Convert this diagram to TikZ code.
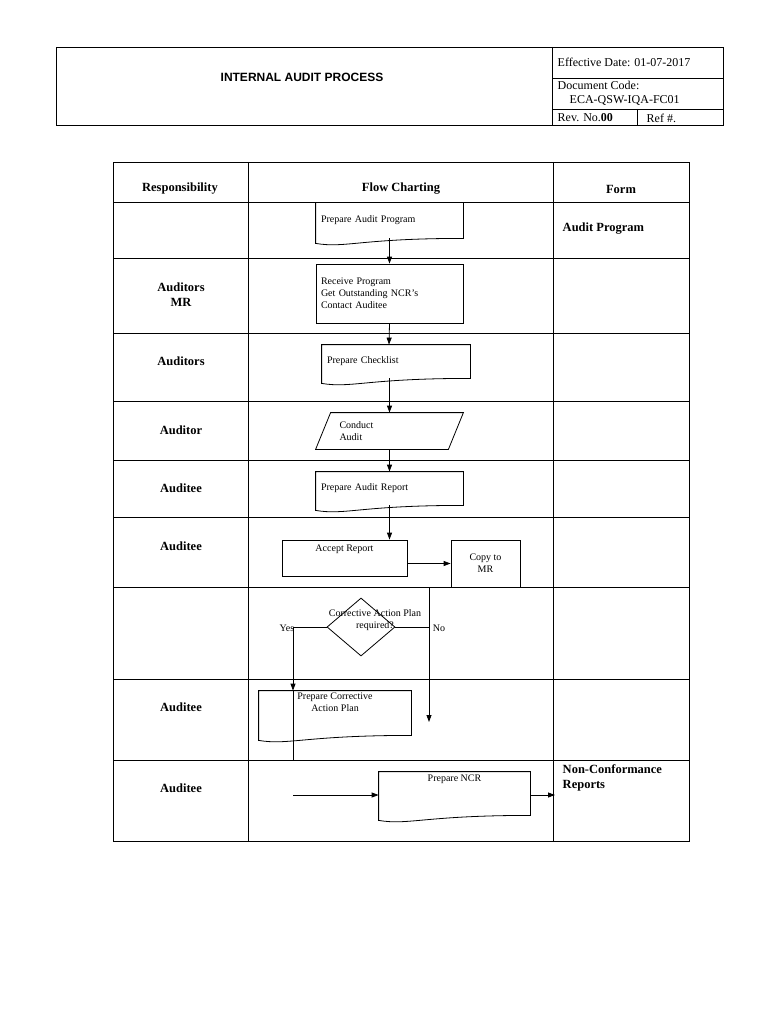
\documentclass[tikz,border=0pt]{standalone}
\usepackage{fontspec}
\setmainfont{Liberation Serif}
\newfontfamily\hsans{Liberation Sans}
\usetikzlibrary{shapes.geometric,arrows.meta}
\begin{document}
\begin{tikzpicture}[x=1pt,y=-1pt,line width=0.8pt,
  box/.style={draw=none,inner sep=0pt,font=\fontsize{10}{12}\selectfont,align=left},
  lbl/.style={font=\fontsize{12.5}{15}\selectfont\bfseries,align=center},
  hdr/.style={font=\fontsize{12}{14}\selectfont,anchor=west},
  arr/.style={-{Triangle[length=7pt,width=5pt]},line width=0.8pt}]
\newcommand\docshape[1]{\draw (#1.north west) -- (#1.north east) -- (#1.south east) .. controls ([xshift=-30pt,yshift=0pt]#1.south) and ([xshift=30pt,yshift=-10pt]#1.south west) .. ([yshift=-5pt]#1.south west) -- cycle;}
\useasboundingbox (0,0) rectangle (768,1024);
% header
\draw (56,47) rectangle (723,125);
\draw (552,47) -- (552,125);
\draw (552,78) -- (723,78);
\draw (552,109) -- (723,109);
\draw (637,109) -- (637,125);
\node[font=\hsans\bfseries\fontsize{12}{14}\selectfont] (title) at (302,77) {INTERNAL AUDIT PROCESS};
\node[hdr] (ed) at (554,62) {Effective Date: 01-07-2017};
\node[hdr] (dc) at (554,85) {Document Code:};
\node[hdr] (dc2) at (566,100) {ECA-QSW-IQA-FC01};
\node[hdr] (rev) at (554,118) {Rev. No.\textbf{00}};
\node[hdr] (ref) at (643,118) {Ref \#.};
% table
\draw (113,162) rectangle (689,841);
\draw (248,162) -- (248,841);
\draw (553,162) -- (553,841);
\foreach \y in {202,258,333,401,460,517,587,679,760} \draw (113,\y) -- (689,\y);
\node[lbl] (h1) at (180,189) {Responsibility};
\node[lbl] (h2) at (401,189) {Flow Charting};
\node[lbl] (h3) at (621,189) {Form};
\node[lbl] (r2) at (181,295) {Auditors\\MR};
\node[lbl] (r3) at (181,361) {Auditors};
\node[lbl] (r4) at (181,430) {Auditor};
\node[lbl] (r5) at (181,488) {Auditee};
\node[lbl] (r6) at (181,546) {Auditee};
\node[lbl] (r8) at (181,707) {Auditee};
\node[lbl] (r9) at (181,788) {Auditee};
\node[lbl,anchor=west] (f1) at (559,229) {Audit Program};
\node[lbl,anchor=west,align=left] (f9) at (559,778) {Non-Conformance\\Reports};
% flow shapes
\node[box,minimum width=147,minimum height=35,text width=137] (p1) at (389.5,220.5) {Prepare Audit Program};
\docshape{p1}
\node[box,draw,minimum width=147,minimum height=59,text width=137] (p2) at (389.5,293.5) {Receive Program\\Get Outstanding NCR's\\Contact Auditee};
\node[box,minimum width=148,minimum height=33,text width=138] (p3) at (396,361.5) {Prepare Checklist};
\docshape{p3}
\node[box,minimum width=147,minimum height=36,text width=100] (p4) at (389.5,431) {Conduct\\Audit};
\draw ([xshift=15pt]p4.north west) -- (p4.north east) -- ([xshift=-15pt]p4.south east) -- (p4.south west) -- cycle;
\node[box,minimum width=147,minimum height=33,text width=137] (p5) at (389.5,488.5) {Prepare Audit Report};
\docshape{p5}
\node[box,draw,minimum width=125,minimum height=36,align=center] (p6) at (344.5,558) {Accept Report\\[8pt]};
\node[box,draw,minimum width=69,minimum height=47,align=center] (p7) at (485.5,563.5) {Copy to\\MR};
\node[draw,diamond,minimum width=68,minimum height=58,inner sep=0pt] (d) at (361,627) {};
\node[box,align=center] (dt) at (375,620) {Corrective Action Plan\\required?};
\node[box,minimum width=152,minimum height=44,align=center] (p8) at (335,713) {Prepare Corrective\\Action Plan\\[10pt]};
\docshape{p8}
\node[box,minimum width=151,minimum height=43,align=center] (p9) at (454.5,793.5) {Prepare NCR\\[18pt]};
\docshape{p9}
\node[box] (yes) at (287,628) {Yes};
\node[box] (no) at (439,628) {No};
\coordinate (yc) at (293,627);
\coordinate (nc) at (429,627);
\coordinate (ntop) at (429,587);
\coordinate (nend) at (429,722);
\coordinate (ytop) at (293,691);
\coordinate (ybot) at (293,760);
\coordinate (ncrin) at (293,795);
\coordinate (ncrout) at (555,795);
% connectors
\draw[arr] (p1.south) -- (p2.north);
\draw[arr] (p2.south) -- ([xshift=-0.5pt]p3.north -| p2.south);
\draw[arr] (p3.south -| p2.south) -- (p4.north);
\draw[arr] (p4.south) -- (p5.north);
\draw[arr] (p5.south) -- (p6.north -| p5.south);
\draw[arr] (p6.east |- p7.west) -- (p7.west);
\draw[arr] (ntop) -- (nend);
\draw (d.east) -- (nc);
\draw[arr] (d.west) -- (yc) -- (yc |- p8.north);
\draw (ytop) -- (ybot);
\draw[arr] (ncrin) -- (ncrin -| p9.west);
\draw[arr] (ncrin -| p9.east) -- (ncrout);
\end{tikzpicture}
\end{document}
